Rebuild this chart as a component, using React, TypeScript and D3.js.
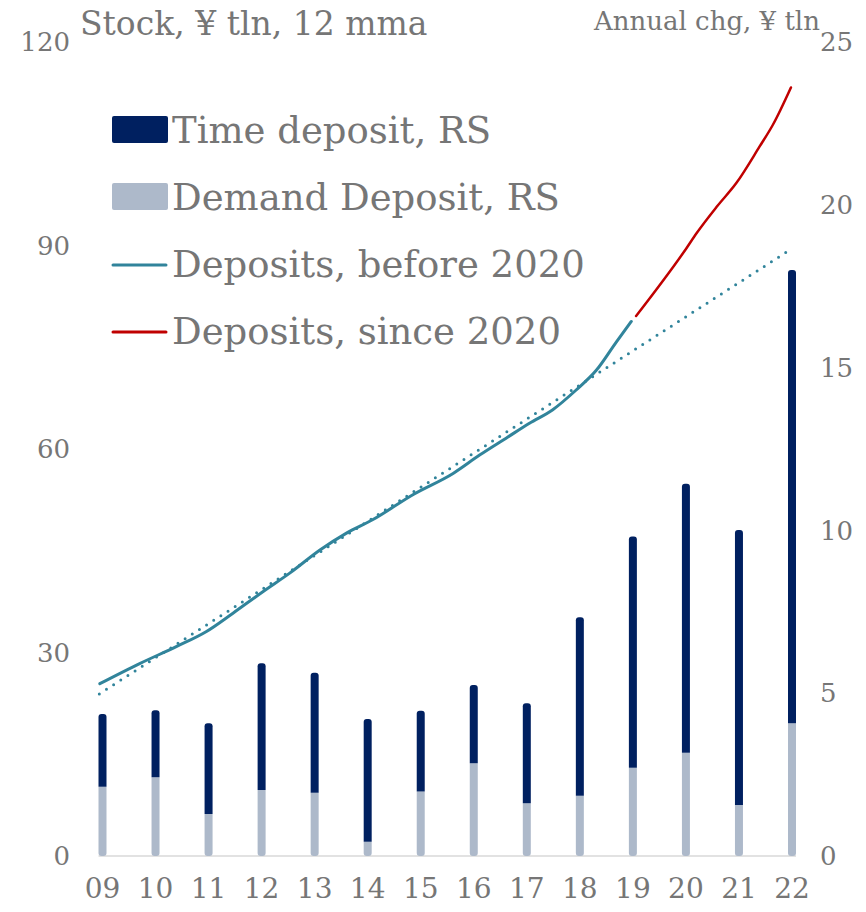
import React from "react";
import * as d3 from "d3";

const categories = ["09", "10", "11", "12", "13", "14", "15", "16", "17", "18", "19", "20", "21", "22"];
const demandDeposit = [2.13, 2.42, 1.29, 2.03, 1.94, 0.44, 1.98, 2.85, 1.62, 1.85, 2.71, 3.17, 1.57, 4.08];
const timeDeposit = [2.23, 2.06, 2.79, 3.89, 3.69, 3.77, 2.48, 2.4, 3.07, 5.48, 7.1, 8.26, 8.44, 13.92];

const beforeYears = [2008.95, 2009.71, 2010.4, 2010.96, 2011.46, 2012.03, 2012.53, 2013.1, 2013.6, 2014.1, 2014.86, 2015.61, 2016.11, 2016.61, 2017.05, 2017.49, 2017.93, 2018.31, 2018.69, 2018.97];
const beforeValues = [25.4, 28.4, 30.9, 33.1, 35.8, 39.0, 41.7, 45.1, 47.6, 49.6, 53.3, 56.4, 59.1, 61.6, 63.8, 65.8, 68.7, 71.6, 75.8, 78.8];

const sinceYears = [2019.06, 2020.01, 2020.2, 2020.58, 2020.95, 2021.39, 2021.64, 2021.98];
const sinceValues = [79.6, 89.6, 91.8, 95.7, 99.2, 104.6, 107.8, 113.3];

const trendYears = [2008.94, 2021.91];
const trendValues = [23.9, 89.1];

const leftTicks = [0, 30, 60, 90, 120];
const rightTicks = [0, 5, 10, 15, 20, 25];

const legendItems = [
  { label: "Time deposit, RS", kind: "box", color: "#002060" },
  { label: "Demand Deposit, RS", kind: "box", color: "#adb9ca" },
  { label: "Deposits, before 2020", kind: "line", color: "#31849b" },
  { label: "Deposits, since 2020", kind: "line", color: "#c00000" },
];

const FONT = "'DejaVu Serif', Georgia, serif";
const TEXT = "#767676";

function roundedPath(x: number, y: number, w: number, h: number, r: number, top: boolean, bottom: boolean) {
  const rt = top ? Math.min(r, h / 2) : 0;
  const rb = bottom ? Math.min(r, h / 2) : 0;
  return `M${x},${y + rt}` +
    (rt ? `Q${x},${y} ${x + rt},${y}` : "") +
    `L${x + w - rt},${y}` +
    (rt ? `Q${x + w},${y} ${x + w},${y + rt}` : "") +
    `L${x + w},${y + h - rb}` +
    (rb ? `Q${x + w},${y + h} ${x + w - rb},${y + h}` : "") +
    `L${x + rb},${y + h}` +
    (rb ? `Q${x},${y + h} ${x},${y + h - rb}` : "") +
    "Z";
}

export default function App() {
  const W = 866;
  const H = 912;
  const x0 = 102.5;
  const x1 = 792;
  const yBottom = 856;
  const yTop = 42;

  const xCat = d3.scalePoint<string>().domain(categories).range([x0, x1]);
  const xTime = d3.scaleLinear().domain([2009, 2022]).range([x0, x1]);
  const yLeft = d3.scaleLinear().domain([0, 120]).range([yBottom, yTop]);
  const yRight = d3.scaleLinear().domain([0, 25]).range([yBottom, yTop]);

  const line = d3
    .line<[number, number]>()
    .x((d) => xTime(d[0]))
    .y((d) => yLeft(d[1]))
    .curve(d3.curveMonotoneX);

  const beforePts = beforeYears.map((t, i) => [t, beforeValues[i]] as [number, number]);
  const sincePts = sinceYears.map((t, i) => [t, sinceValues[i]] as [number, number]);
  const trendPts = trendYears.map((t, i) => [t, trendValues[i]] as [number, number]);
  const trendLine = d3.line<[number, number]>().x((d) => xTime(d[0])).y((d) => yLeft(d[1]));

  const bw = 8;

  return (
    <svg width={W} height={H} style={{ display: "block", position: "absolute", left: 0, top: 0 }} fontFamily={FONT}>
      <rect width={W} height={H} fill="#fff" />
      {/* axis baseline */}
      <line x1={x0 - 4} x2={x1 + 4} y1={yBottom} y2={yBottom} stroke="#d9d9d9" strokeWidth={1.5} />

      {/* bars */}
      {categories.map((c, i) => {
        const cx = xCat(c) as number;
        const yd = yRight(demandDeposit[i]);
        const yt = yRight(demandDeposit[i] + timeDeposit[i]);
        return (
          <g key={c}>
            <path d={roundedPath(cx - bw / 2, yd, bw, yBottom - yd, 3, false, true)} fill="#adb9ca" />
            <path d={roundedPath(cx - bw / 2, yt, bw, yd - yt, 3, true, false)} fill="#002060" />
          </g>
        );
      })}

      {/* trend */}
      <path d={trendLine(trendPts) || ""} fill="none" stroke="#31849b" strokeWidth={3} strokeDasharray="0 8.5" strokeLinecap="round" />
      {/* lines */}
      <path d={line(beforePts) || ""} fill="none" stroke="#31849b" strokeWidth={3} strokeLinecap="round" strokeLinejoin="round" />
      <path d={line(sincePts) || ""} fill="none" stroke="#c00000" strokeWidth={2.5} strokeLinecap="round" strokeLinejoin="round" />

      {/* left ticks */}
      {leftTicks.map((t) => (
        <text key={"l" + t} x={70} y={yLeft(t)} dy="0.35em" textAnchor="end" fontSize={26} fill={TEXT}>
          {t}
        </text>
      ))}
      {/* right ticks */}
      {rightTicks.map((t) => (
        <text key={"r" + t} x={820} y={yRight(t)} dy="0.35em" textAnchor="start" fontSize={26} fill={TEXT}>
          {t}
        </text>
      ))}
      {/* x labels */}
      {categories.map((c) => (
        <text key={"x" + c} x={xCat(c) as number} y={898} textAnchor="middle" fontSize={28} fill={TEXT}>
          {c}
        </text>
      ))}

      {/* titles */}
      <text x={80} y={35} fontSize={33} fill={TEXT}>Stock, ¥ tln, 12 mma</text>
      <text x={594} y={30} fontSize={26} fill={TEXT}>Annual chg, ¥ tln</text>

      {/* legend */}
      {legendItems.map((it, i) => {
        const base = 143 + i * 67;
        return (
          <g key={it.label}>
            {it.kind === "box" ? (
              <rect x={112} y={base - 27} width={56} height={27} rx={2} fill={it.color} />
            ) : (
              <line x1={113} x2={166} y1={base - 12} y2={base - 12} stroke={it.color} strokeWidth={3} strokeLinecap="round" />
            )}
            <text x={172} y={base} fontSize={37} fill={TEXT}>
              {it.label}
            </text>
          </g>
        );
      })}
    </svg>
  );
}
